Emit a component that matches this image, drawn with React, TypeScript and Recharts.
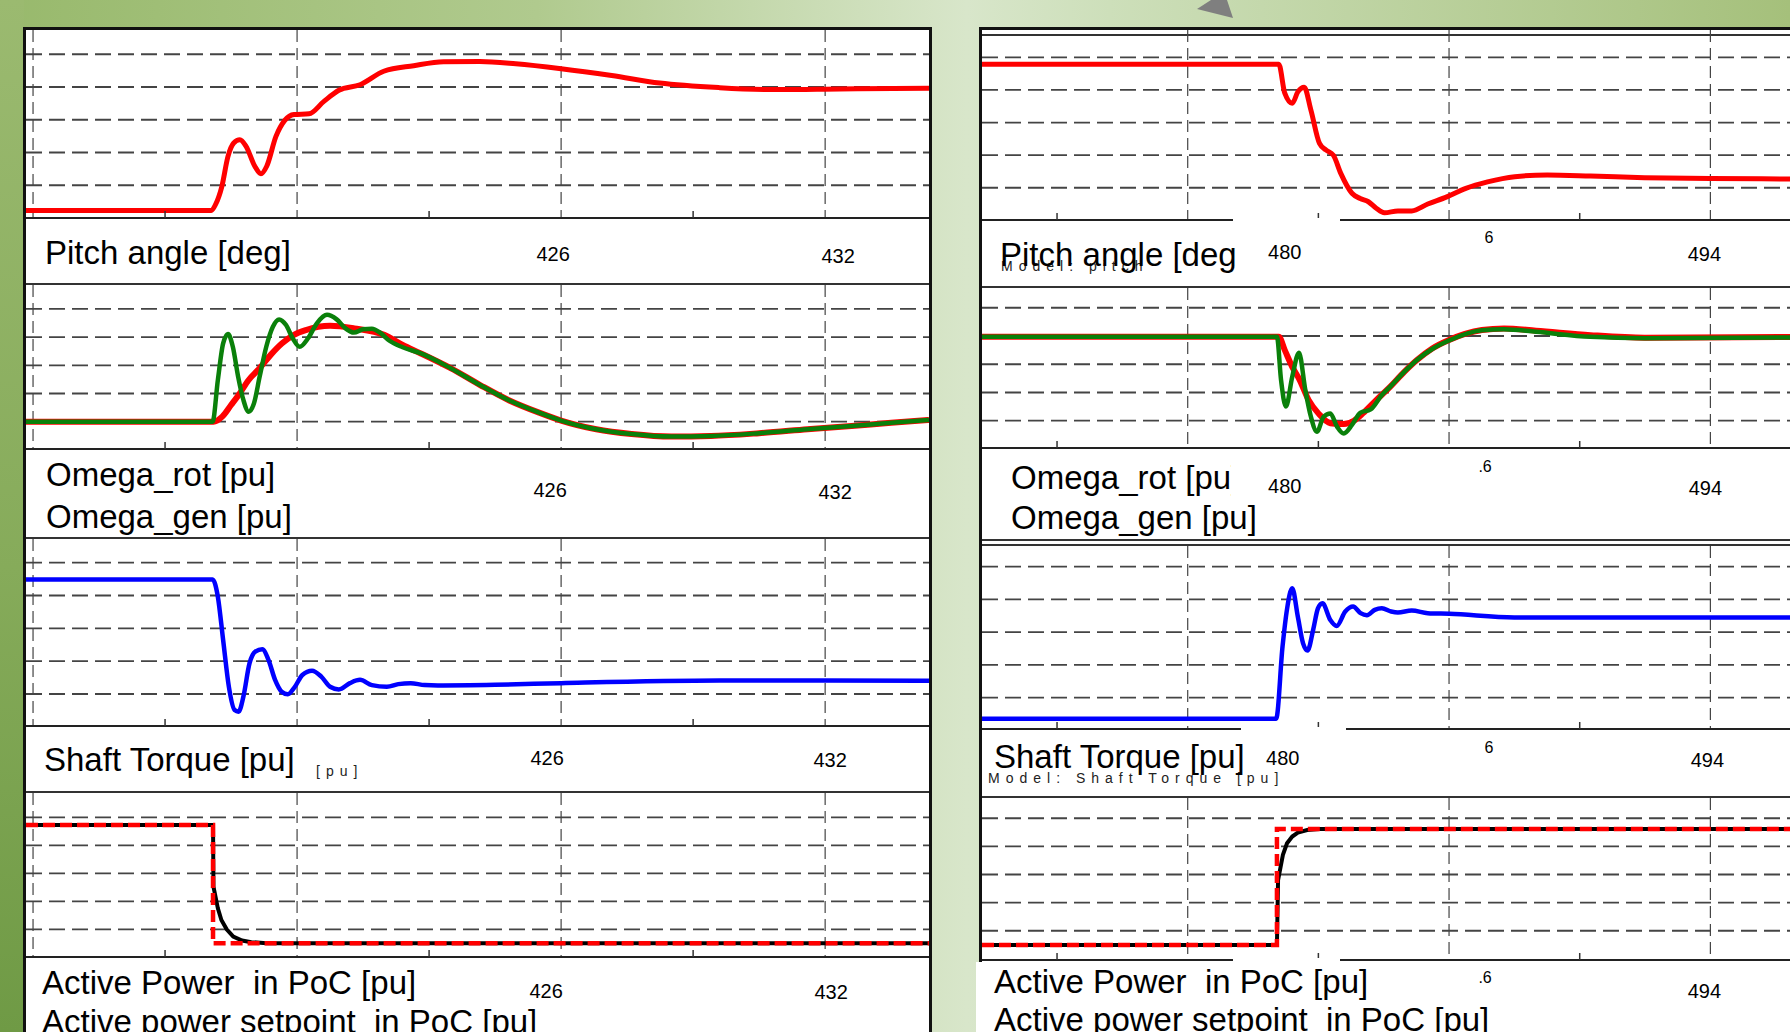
import React from 'react';
import { LineChart, Line, XAxis, YAxis, CartesianGrid } from 'recharts';

type Pt = [number, number];

// time axis (s) and grid
const leftMajors = [414, 420, 426, 432];
const leftMinors = [417, 423, 429];
const rightMajors = [480, 487, 494];
const rightMinors = [476.5, 483.5, 490.5];
const gridLevels = [1, 2, 3, 4, 5];
const leftTickText = ['426', '432'];
const rightTickText = ['480', '6', '.6', '494'];

// values are in grid units (dashed gridlines at 1..5)
const leftPitch: Pt[] = [
  [413.84, 0.23], [418.05, 0.23], [418.15, 0.42], [418.29, 0.96], [418.43, 1.88], [418.56, 2.29],
  [418.7, 2.39], [418.84, 2.19], [419.04, 1.58], [419.18, 1.35], [419.31, 1.58], [419.52, 2.49],
  [419.72, 2.98], [419.93, 3.16], [420.27, 3.18], [420.61, 3.56], [420.95, 3.9], [421.43, 4.07],
  [421.97, 4.48], [422.65, 4.65], [423.33, 4.77], [424.15, 4.78], [424.97, 4.71], [426, 4.56],
  [427.15, 4.35], [428.24, 4.12], [429.6, 3.98], [430.96, 3.92], [432.33, 3.94], [434.36, 3.96],
];

const leftOmegaRot: Pt[] = [
  [413.84, 1.0], [418.1, 1.0], [418.3, 1.18], [418.5, 1.59], [418.7, 2.01], [418.9, 2.48],
  [419.11, 2.83], [419.4, 3.37], [419.66, 3.78], [419.93, 4.08], [420.2, 4.25], [420.75, 4.4],
  [421.3, 4.31], [421.98, 4.08], [422.4, 3.72], [422.8, 3.43], [423.5, 2.89], [424.16, 2.3],
  [424.8, 1.77], [425.5, 1.32], [426, 1.04], [426.8, 0.73], [427.6, 0.56], [428.5, 0.47],
  [429.4, 0.49], [430.5, 0.59], [431.6, 0.73], [432.6, 0.85], [433.5, 0.96], [434.36, 1.06],
];

const leftOmegaGen: Pt[] = [
  [413.84, 1.0], [418.08, 1.0], [418.2, 2.48], [418.32, 3.78], [418.43, 4.11], [418.54, 3.66],
  [418.66, 2.6], [418.78, 1.77], [418.9, 1.35], [419.02, 1.65], [419.15, 2.6], [419.3, 3.66],
  [419.45, 4.37], [419.59, 4.63], [419.75, 4.43], [419.9, 3.96], [420.06, 3.66], [420.25, 3.96],
  [420.45, 4.49], [420.68, 4.79], [420.9, 4.63], [421.1, 4.31], [421.29, 4.16], [421.5, 4.28],
  [421.7, 4.3], [421.9, 4.14], [422.1, 3.87], [422.4, 3.64], [422.8, 3.43], [423.5, 2.89],
  [424.16, 2.3], [424.8, 1.77], [425.5, 1.32], [426, 1.04], [426.8, 0.73], [427.6, 0.56],
  [428.5, 0.47], [429.4, 0.49], [430.5, 0.59], [431.6, 0.73], [432.6, 0.85], [433.5, 0.96],
  [434.36, 1.06],
];

const leftTorque: Pt[] = [
  [413.84, 4.49], [418.08, 4.49], [418.2, 3.96], [418.32, 2.64], [418.45, 1.22], [418.58, 0.51],
  [418.67, 0.46], [418.78, 0.92], [418.92, 1.94], [419.05, 2.29], [419.21, 2.36], [419.35, 2.04],
  [419.5, 1.43], [419.65, 1.07], [419.79, 0.99], [419.95, 1.22], [420.12, 1.58], [420.34, 1.71],
  [420.55, 1.53], [420.75, 1.22], [420.95, 1.14], [421.2, 1.33], [421.43, 1.43], [421.7, 1.27],
  [422.04, 1.22], [422.3, 1.3], [422.58, 1.33], [422.9, 1.27], [423.2, 1.26], [424.5, 1.28],
  [426, 1.33], [429.6, 1.41], [432, 1.41], [434.36, 1.4],
];

const leftPower: Pt[] = [
  [413.84, 4.73], [418.09, 4.73], [418.1, 2.52], [418.2, 1.75], [418.28, 1.33], [418.4, 1.0],
  [418.55, 0.74], [418.75, 0.6], [418.96, 0.54], [419.3, 0.5], [434.36, 0.5],
];
const leftSetpoint: Pt[] = [[413.84, 4.73], [418.09, 4.73], [418.09, 0.5], [434.36, 0.5]];

const rightPitch: Pt[] = [
  [474.49, 4.79], [482.44, 4.79], [482.6, 3.9], [482.8, 3.59], [482.95, 3.94], [483.12, 4.08],
  [483.3, 3.38], [483.53, 2.36], [483.7, 2.16], [483.9, 2.0], [484.1, 1.44], [484.4, 0.83],
  [484.62, 0.67], [484.84, 0.57], [485.05, 0.37], [485.27, 0.23], [485.63, 0.29], [486.0, 0.29],
  [486.43, 0.5], [486.94, 0.72], [487.45, 0.98], [488.03, 1.18], [488.76, 1.34], [489.63, 1.39],
  [490.79, 1.36], [492.24, 1.31], [494, 1.28], [496.32, 1.27],
];

const rightOmegaRot: Pt[] = [
  [474.49, 3.97], [482.44, 3.97], [482.6, 3.5], [482.8, 2.91], [483.0, 2.44], [483.24, 1.73],
  [483.5, 1.26], [483.82, 0.91], [484.18, 0.88], [484.45, 1.0], [484.69, 1.26], [485.05, 1.73],
  [485.42, 2.2], [485.8, 2.73], [486.14, 3.15], [486.55, 3.56], [487, 3.86], [487.88, 4.21],
  [488.47, 4.27], [489.33, 4.19], [490.79, 4.03], [492.24, 3.94], [496.32, 3.97],
];

const rightOmegaGen: Pt[] = [
  [474.49, 3.97], [482.39, 3.97], [482.5, 2.44], [482.63, 1.5], [482.8, 2.56], [482.98, 3.41],
  [483.15, 2.09], [483.3, 1.14], [483.46, 0.61], [483.64, 1.14], [483.82, 1.26], [484.0, 0.79],
  [484.18, 0.55], [484.4, 0.85], [484.62, 1.28], [484.9, 1.4], [485.2, 1.91], [485.42, 2.2],
  [485.8, 2.73], [486.14, 3.15], [486.55, 3.54], [487, 3.84], [487.88, 4.2], [488.47, 4.24],
  [489.33, 4.15], [490.79, 3.97], [492.24, 3.92], [496.32, 3.95],
];

const rightTorque: Pt[] = [
  [474.49, 0.36], [482.37, 0.36], [482.54, 2.56], [482.66, 3.7], [482.8, 4.34], [482.95, 3.47],
  [483.09, 2.66], [483.21, 2.44], [483.36, 3.07], [483.49, 3.73], [483.61, 3.88], [483.82, 3.37],
  [483.99, 3.19], [484.22, 3.63], [484.43, 3.78], [484.63, 3.58], [484.8, 3.52], [485.01, 3.68],
  [485.2, 3.73], [485.45, 3.63], [485.63, 3.6], [486, 3.66], [486.43, 3.58], [487.01, 3.56],
  [488.75, 3.45], [490.79, 3.45], [496.32, 3.45],
];

const rightPower: Pt[] = [
  [474.49, 0.49], [482.39, 0.49], [482.42, 2.8], [482.55, 3.7], [482.66, 4.11], [482.8, 4.35],
  [482.95, 4.49], [483.2, 4.58], [483.53, 4.62], [496.32, 4.62],
];
const rightSetpoint: Pt[] = [[474.49, 0.49], [482.39, 0.49], [482.39, 4.62], [496.32, 4.62]];

const FONT = "'Liberation Sans', Arial, sans-serif";

type Trace = { pts: Pt[]; color: string; width: number; dash?: string; curve?: 'monotone' | 'linear' };
type TickLab = { at: number; text: string; dx: number; dy: number; size?: number };

type SubplotProps = {
  x: number;
  top: number;
  width: number;
  plotH: number;
  stripH: number;
  domain: [number, number];
  yDomain: [number, number];
  majors: number[];
  minors: number[];
  tickLabs: TickLab[];
  traces: Trace[];
};

const Subplot = ({ x, top, width, plotH, stripH, domain, yDomain, majors, minors, tickLabs, traces }: SubplotProps) => {
  const ticks = [...majors, ...minors].sort((a, b) => a - b);
  const renderTick = (p: any) => {
    const v = p.payload.value;
    const lab = tickLabs.find((l) => l.at === v);
    return (
      <g>
        {minors.includes(v) && <line x1={p.x} x2={p.x} y1={p.y} y2={p.y - 7} stroke="#333" strokeWidth={1.5} />}
        {lab && (
          <text x={p.x + lab.dx} y={p.y + lab.dy} textAnchor="middle" dominantBaseline="central"
            fontSize={lab.size ?? 20} fill="#000" fontFamily={FONT}>
            {lab.text}
          </text>
        )}
      </g>
    );
  };
  return (
    <div style={{ position: 'absolute', left: x, top, width, height: plotH + stripH }}>
      <LineChart width={width} height={plotH + stripH} margin={{ top: 0, right: 0, bottom: 0, left: 0 }}>
        <CartesianGrid horizontal={false} verticalValues={majors} stroke="#444" strokeWidth={1.2} strokeDasharray="12 6" />
        <CartesianGrid vertical={false} horizontalValues={gridLevels} stroke="#444" strokeWidth={1.8} strokeDasharray="16 7" />
        <XAxis type="number" dataKey="t" domain={domain} allowDataOverflow ticks={ticks} interval={0}
          height={stripH} tickSize={0} tickMargin={0} tickLine={false} tick={renderTick}
          axisLine={{ stroke: '#222', strokeWidth: 2 }} />
        <YAxis hide type="number" domain={yDomain} allowDataOverflow />
        {traces.map((tr, i) => (
          <Line key={i} data={tr.pts.map(([t, v]) => ({ t, v }))} dataKey="v" type={tr.curve ?? 'monotone'}
            stroke={tr.color} strokeWidth={tr.width} strokeDasharray={tr.dash} dot={false} activeDot={false}
            isAnimationActive={false} />
        ))}
      </LineChart>
    </div>
  );
};

const RED = '#ff0000';
const GREEN = '#0a800a';
const BLUE = '#0000ff';

const leftDomain: [number, number] = [413.84, 434.36];
const rightDomain: [number, number] = [474.49, 496.32];

const lt = (a: string, b: string, dx1: number, dy1: number, dx2: number, dy2: number): TickLab[] => [
  { at: 426, text: a, dx: dx1, dy: dy1 },
  { at: 432, text: b, dx: dx2, dy: dy2 },
];

const Title = ({ x, cy, text, size = 33 }: { x: number; cy: number; text: string; size?: number }) => (
  <div style={{ position: 'absolute', left: x, top: cy - size * 0.58, fontFamily: FONT, fontSize: size,
    lineHeight: 1.15, whiteSpace: 'pre', color: '#000' }}>{text}</div>
);

const Note = ({ x, cy, text }: { x: number; cy: number; text: string }) => (
  <div style={{ position: 'absolute', left: x, top: cy - 8, fontFamily: FONT, fontSize: 14, lineHeight: '16px',
    letterSpacing: 6, whiteSpace: 'pre', color: '#222' }}>{text}</div>
);

const Hr = ({ x, y, w, h = 2 }: { x: number; y: number; w: number; h?: number }) => (
  <div style={{ position: 'absolute', left: x, top: y, width: w, height: h, background: '#333' }} />
);

const App = () => {
  const [t426, t432] = leftTickText;
  const [r480, r6, r06, r494] = rightTickText;
  return (
    <div style={{ position: 'fixed', left: 0, top: 0, width: 1790, height: 1032, overflow: 'hidden',
      background: 'linear-gradient(90deg, #98b96c 0%, #b0ca8e 30%, #d8e6ca 54%, #cddfba 62%, #a5c07b 100%)' }}>
      <div style={{ position: 'absolute', left: 0, top: 0, width: 24, height: 1032,
        background: 'linear-gradient(180deg, #9bba70 0%, #86ab5a 55%, #6f9a45 100%)' }} />
      <svg width={60} height={20} style={{ position: 'absolute', left: 1190, top: 0 }}>
        <polygon points="21,0 37,0 43,18 7,9" fill="#7f7f7f" />
      </svg>

      {/* left panel frame */}
      <div style={{ position: 'absolute', left: 23, top: 27, width: 909, height: 1020, boxSizing: 'border-box',
        border: '3px solid #111', background: '#fff' }} />
      {/* right panel frame */}
      <div style={{ position: 'absolute', left: 979, top: 27, width: 840, height: 1020, boxSizing: 'border-box',
        border: '3px solid #111', background: '#fff' }} />
      <Hr x={982} y={34} w={820} />

      <Hr x={26} y={283} w={903} />
      <Hr x={26} y={537} w={903} />
      <Hr x={26} y={791} w={903} />
      <Hr x={982} y={286} w={820} />
      <Hr x={982} y={539} w={820} />
      <Hr x={982} y={544} w={820} />
      <Hr x={982} y={796} w={820} />

      {/* left panel */}
      <Subplot x={26} top={30} width={903} plotH={188} stripH={65} domain={leftDomain} yDomain={[0, 5.74]}
        majors={leftMajors} minors={leftMinors} tickLabs={lt(t426, t432, -8, 36, 13, 38)}
        traces={[{ pts: leftPitch, color: RED, width: 5 }]} />
      <Subplot x={26} top={285} width={903} plotH={164} stripH={88} domain={leftDomain} yDomain={[0.03, 5.85]}
        majors={leftMajors} minors={leftMinors} tickLabs={lt(t426, t432, -11, 41, 10, 43)}
        traces={[{ pts: leftOmegaRot, color: RED, width: 6 }, { pts: leftOmegaGen, color: GREEN, width: 4.5 }]} />
      <Subplot x={26} top={539} width={903} plotH={187} stripH={65} domain={leftDomain} yDomain={[0.025, 5.72]}
        majors={leftMajors} minors={leftMinors} tickLabs={lt(t426, t432, -14, 32, 5, 34)}
        traces={[{ pts: leftTorque, color: BLUE, width: 4.5 }]} />
      <Subplot x={26} top={793} width={903} plotH={164} stripH={82} domain={leftDomain} yDomain={[0.01, 5.87]}
        majors={leftMajors} minors={leftMinors} tickLabs={lt(t426, t432, -15, 34, 6, 35)}
        traces={[
          { pts: leftPower, color: '#000', width: 4, curve: 'linear' },
          { pts: leftSetpoint, color: RED, width: 4.5, dash: '12 5', curve: 'linear' },
        ]} />

      {/* right panel */}
      <Subplot x={982} top={30} width={815} plotH={190} stripH={66} domain={rightDomain} yDomain={[0.01, 5.84]}
        majors={rightMajors} minors={rightMinors}
        tickLabs={[
          { at: 480, text: r480, dx: 97, dy: 32 },
          { at: 487, text: r6, dx: 40, dy: 17, size: 16 },
          { at: 494, text: r494, dx: -6, dy: 34 },
        ]}
        traces={[{ pts: rightPitch, color: RED, width: 5 }]} />
      <Subplot x={982} top={288} width={815} plotH={160} stripH={91} domain={rightDomain} yDomain={[0.034, 5.7]}
        majors={rightMajors} minors={rightMinors}
        tickLabs={[
          { at: 480, text: r480, dx: 97, dy: 38 },
          { at: 487, text: r06, dx: 36, dy: 18, size: 16 },
          { at: 494, text: r494, dx: -5, dy: 40 },
        ]}
        traces={[{ pts: rightOmegaRot, color: RED, width: 6 }, { pts: rightOmegaGen, color: GREEN, width: 4.5 }]} />
      <Subplot x={982} top={546} width={815} plotH={183} stripH={67} domain={rightDomain} yDomain={[0.044, 5.63]}
        majors={rightMajors} minors={rightMinors}
        tickLabs={[
          { at: 480, text: r480, dx: 95, dy: 29 },
          { at: 487, text: r6, dx: 40, dy: 18, size: 16 },
          { at: 494, text: r494, dx: -3, dy: 31 },
        ]}
        traces={[{ pts: rightTorque, color: BLUE, width: 4.5 }]} />
      <Subplot x={982} top={798} width={815} plotH={162} stripH={80} domain={rightDomain} yDomain={[-0.04, 5.72]}
        majors={rightMajors} minors={rightMinors}
        tickLabs={[
          { at: 487, text: r06, dx: 36, dy: 17, size: 16 },
          { at: 494, text: r494, dx: -6, dy: 31 },
        ]}
        traces={[
          { pts: rightPower, color: '#000', width: 4, curve: 'linear' },
          { pts: rightSetpoint, color: RED, width: 4.5, dash: '12 5', curve: 'linear' },
        ]} />

      {/* pasted-over gaps in the right axes */}
      <div style={{ position: 'absolute', left: 1233, top: 218, width: 107, height: 5, background: '#fff' }} />
      <div style={{ position: 'absolute', left: 1241, top: 727, width: 105, height: 5, background: '#fff' }} />
      <div style={{ position: 'absolute', left: 1233, top: 958, width: 107, height: 5, background: '#fff' }} />
      <div style={{ position: 'absolute', left: 976, top: 962, width: 40, height: 80, background: '#fff' }} />

      {/* labels */}
      <Title x={45} cy={253} text="Pitch angle [deg]" />
      <Title x={46} cy={475} text="Omega_rot [pu]" />
      <Title x={46} cy={517} text="Omega_gen [pu]" />
      <Note x={316} cy={771} text="[pu]" />
      <Title x={44} cy={760} text="Shaft Torque [pu]" />
      <Title x={42} cy={983} text="Active Power  in PoC [pu]" />
      <Title x={42} cy={1022} text="Active power setpoint  in PoC [pu]" />

      <Note x={1001} cy={266} text="Model: pitch" />
      <div style={{ position: 'absolute', left: 1000, top: 230, width: 236, height: 60, overflow: 'hidden' }}>
        <Title x={0} cy={25} text="Pitch angle [deg]" />
      </div>
      <div style={{ position: 'absolute', left: 1011, top: 450, width: 220, height: 50, overflow: 'hidden' }}>
        <Title x={0} cy={28} text="Omega_rot [pu]" />
      </div>
      <Title x={1011} cy={518} text="Omega_gen [pu]" />
      <Note x={988} cy={778} text="Model: Shaft Torque [pu]" />
      <Title x={994} cy={757} text="Shaft Torque [pu]" />
      <Title x={994} cy={982} text="Active Power  in PoC [pu]" />
      <Title x={994} cy={1020} text="Active power setpoint  in PoC [pu]" />
    </div>
  );
};

export default App;
